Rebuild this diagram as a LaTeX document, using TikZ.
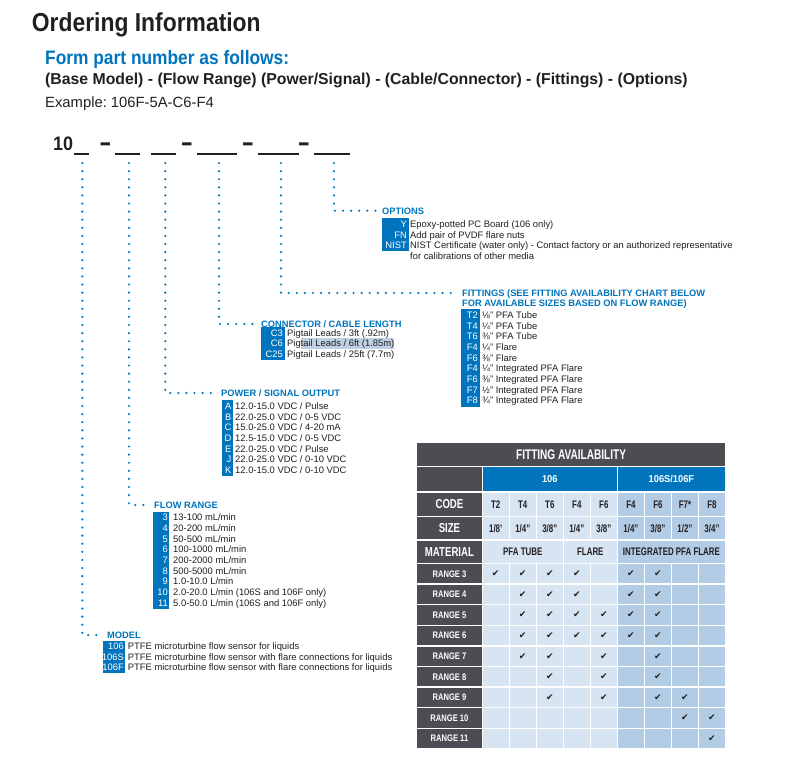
\documentclass[tikz,border=0pt]{standalone}
\usepackage{fontspec}
\setmainfont{Liberation Sans}
\newfontfamily\symfont{DejaVu Sans}
\usepackage{graphicx}
\usepackage{xcolor}
\usepackage{tikz}
\usetikzlibrary{positioning}
\frenchspacing

\definecolor{brandblue}{RGB}{0,116,188}
\definecolor{tabdark}{RGB}{75,77,82}
\definecolor{celllight}{RGB}{215,228,242}
\definecolor{cellmid}{RGB}{179,204,230}
\definecolor{txtdark}{RGB}{35,31,32}
\definecolor{selblue}{RGB}{190,209,228}

\newcommand{\cond}[2][0.72]{\scalebox{#1}[1]{#2}}
\newcommand{\chk}{{\symfont\fontsize{9}{9}\selectfont ✔}}

\begin{document}
\begin{tikzpicture}[x=1pt,y=-1pt]
    \tikzset{hd/.style = {anchor=west, inner sep=0pt, text=brandblue, font=\fontsize{9.3}{11}\selectfont\bfseries, text height=6.7pt, text depth=0pt}}
    \tikzset{item/.style = {anchor=west, inner sep=0pt, text=txtdark, font=\fontsize{9.4}{10.7}\selectfont, text height=6.7pt, text depth=0pt}}
    \tikzset{code/.style = {anchor=east, inner sep=0pt, text=white, font=\fontsize{9.4}{10.7}\selectfont, text height=6.7pt, text depth=0pt}}
    \tikzset{dots/.style = {brandblue, line width=2.4pt, line cap=round, dash pattern=on 0pt off 8.1pt}}
    \tikzset{blank/.style = {txtdark, line width=1.3pt}}
    \tikzset{dashtxt/.style = {anchor=base, inner sep=0pt, text=txtdark, font=\fontsize{19}{20}\selectfont\bfseries}}
    \tikzset{lab/.style = {fill=tabdark, text=white, inner sep=0pt, minimum width=64.1pt, font=\bfseries}}
    \tikzset{cell/.style = {inner sep=0pt, minimum width=25.6pt, text=txtdark, font=\fontsize{11}{11}\selectfont\bfseries}}

    \fill[white] (0,0) rectangle (792,763);
    \useasboundingbox (0,0) rectangle (792,763);

    % heading
    \node[anchor=base west, inner sep=0pt, text=txtdark, font=\fontsize{26}{26}\selectfont\bfseries] (title) at (31.7,31.3) {\cond[0.88]{Ordering Information}};
    \node[anchor=base west, inner sep=0pt, text=brandblue, font=\fontsize{19.5}{20}\selectfont\bfseries] (form) at (45,64) {\cond[0.89]{Form part number as follows:}};
    \node[anchor=base west, inner sep=0pt, text=txtdark, font=\fontsize{15.8}{16}\selectfont\bfseries] (fields) at (45,84) {(Base Model) - (Flow Range) (Power/Signal) - (Cable/Connector) - (Fittings) - (Options)};
    \node[anchor=base west, inner sep=0pt, text=txtdark, font=\fontsize{14.8}{15}\selectfont] (example) at (45,107.3) {Example: 106F-5A-C6-F4};

    % part number
    \node[anchor=base west, inner sep=0pt, text=txtdark, font=\fontsize{19.5}{20}\selectfont\bfseries] (ten) at (53,150.7) {\cond[0.92]{10}};
    \draw[blank] (74,154) -- (89,154);
    \node[dashtxt] (d1) at (105.5,152) {\scalebox{1}[1.6]{–}};
    \draw[blank] (115,154) -- (140,154);
    \draw[blank] (151,154) -- (176,154);
    \node[dashtxt] (d2) at (187,152) {\scalebox{1}[1.6]{–}};
    \draw[blank] (197,154) -- (237,154);
    \node[dashtxt] (d3) at (248,152) {\scalebox{1}[1.6]{–}};
    \draw[blank] (258,154) -- (299,154);
    \node[dashtxt] (d4) at (304,152) {\scalebox{1}[1.6]{–}};
    \draw[blank] (314,154) -- (350,154);

    \coordinate (bm) at (82.3,163);
    \coordinate (bf) at (129,163);
    \coordinate (bp) at (165.3,163);
    \coordinate (bc) at (219,163);
    \coordinate (bt) at (281,163);
    \coordinate (bo) at (334,163);

    % options
    \node[hd] (opt) at (382,210.7) {OPTIONS};
    \fill[brandblue] (382,218.2) rectangle (408.5,251.2);
    \foreach \c/\t [count=\n from 0] in {Y/{Epoxy-potted PC Board (106 only)}, FN/{Add pair of PVDF flare nuts}, NIST/{NIST Certificate (water only) - Contact factory or an authorized representative}}{
        \node[code] (oc\n) at (407,224+10.7*\n) {\c};
        \node[item] (ot\n) at (410,224+10.7*\n) {\t};
    }
    \node[item] (ot3) at (410,256.1) {for calibrations of other media};

    % fittings
    \node[hd] (fit) at (462,293) {FITTINGS (SEE FITTING AVAILABILITY CHART BELOW};
    \node[hd] (fit2) at (462,303.2) {FOR AVAILABLE SIZES BASED ON FLOW RANGE)};
    \fill[brandblue] (461,309.2) rectangle (479.5,406.8);
    \foreach \c/\t [count=\n from 0] in {T2/{⅛" PFA Tube}, T4/{¼" PFA Tube}, T6/{⅜" PFA Tube}, F4/{¼" Flare}, F6/{⅜" Flare}, F4/{¼" Integrated PFA Flare}, F6/{⅜" Integrated PFA Flare}, F7/{½" Integrated PFA Flare}, F8/{¾" Integrated PFA Flare}}{
        \node[code] (fc\n) at (478,315+10.7*\n) {\c};
        \node[item] (ft\n) at (482,315+10.7*\n) {\t};
    }

    % connector
    \node[hd] (con) at (261,324) {CONNECTOR / CABLE LENGTH};
    \fill[brandblue] (261,327.2) rectangle (284.5,359.8);
    \fill[selblue] (300.7,338.4) rectangle (394,349);
    \foreach \c/\t [count=\n from 0] in {C3/{Pigtail Leads / 3ft (.92m)}, C6/{Pigtail Leads / 6ft (1.85m)}, C25/{Pigtail Leads / 25ft (7.7m)}}{
        \node[code] (cc\n) at (283,332.7+10.7*\n) {\c};
        \node[item] (ct\n) at (287,332.7+10.7*\n) {\t};
    }

    % power
    \node[hd] (pow) at (221,393) {POWER / SIGNAL OUTPUT};
    \fill[brandblue] (221.5,400.3) rectangle (233,476);
    \foreach \c/\t [count=\n from 0] in {A/{12.0-15.0 VDC / Pulse}, B/{22.0-25.0 VDC / 0-5 VDC}, C/{15.0-25.0 VDC / 4-20 mA}, D/{12.5-15.0 VDC / 0-5 VDC}, E/{22.0-25.0 VDC / Pulse}, J/{22.0-25.0 VDC / 0-10 VDC}, K/{12.0-15.0 VDC / 0-10 VDC}}{
        \node[code] (pc\n) at (231.5,406+10.7*\n) {\c};
        \node[item] (pt\n) at (235,406+10.7*\n) {\t};
    }

    % flow range
    \node[hd] (flo) at (154,505) {FLOW RANGE};
    \fill[brandblue] (152.7,511.6) rectangle (169.3,608.5);
    \foreach \c/\t [count=\n from 0] in {3/{13-100 mL/min}, 4/{20-200 mL/min}, 5/{50-500 mL/min}, 6/{100-1000 mL/min}, 7/{200-2000 mL/min}, 8/{500-5000 mL/min}, 9/{1.0-10.0 L/min}, 10/{2.0-20.0 L/min (106S and 106F only)}, 11/{5.0-50.0 L/min (106S and 106F only)}}{
        \node[code] (rc\n) at (168,517.3+10.7*\n) {\c};
        \node[item] (rt\n) at (173,517.3+10.7*\n) {\t};
    }

    % model
    \node[hd] (mdl) at (107,635) {MODEL};
    \fill[brandblue] (103.3,640.6) rectangle (125.3,672.8);
    \foreach \c/\t [count=\n from 0] in {106/{PTFE microturbine flow sensor for liquids}, 106S/{PTFE microturbine flow sensor with flare connections for liquids}, 106F/{PTFE microturbine flow sensor with flare connections for liquids}}{
        \node[code] (mc\n) at (124,646+10.7*\n) {\c};
        \node[item] (mt\n) at (127.7,646+10.7*\n) {\t};
    }

    % leaders
    \draw[dots] (bo) |- ([xshift=-4pt]opt.west);
    \draw[dots] (bt) |- ([xshift=-5pt]fit.west);
    \draw[dots] (bc) |- ([xshift=-4pt]con.west);
    \draw[dots] (bp) |- ([xshift=-4pt]pow.west);
    \draw[dots] (bf) |- ([xshift=-5pt]flo.west);
    \draw[dots] (bm) |- ([xshift=-4pt]mdl.west);

    % fitting availability table
    \node[fill=tabdark, text=white, inner sep=0pt, minimum width=307.4pt, minimum height=23.1pt, font=\fontsize{14}{14}\selectfont\bfseries] (fa) at (571.1,454.25) {\cond[0.72]{FITTING AVAILABILITY}};
    \node[lab, minimum height=24.1pt] (hblank) at (449.45,479.25) {};
    \node[fill=brandblue, text=white, inner sep=0pt, minimum width=133.7pt, minimum height=24.1pt, font=\fontsize{10}{10}\selectfont\bfseries] (g106) at (549.8,479.25) {\cond[0.93]{106}};
    \node[fill=brandblue, text=white, inner sep=0pt, minimum width=106.7pt, minimum height=24.1pt, font=\fontsize{10}{10}\selectfont\bfseries] (g106s) at (671.4,479.25) {\cond[0.93]{106S/106F}};

    \node[lab, minimum height=23.1pt, font=\fontsize{13}{13}\selectfont\bfseries] (lcode) at (449.45,504.25) {\cond[0.74]{CODE}};
    \node[lab, minimum height=22.1pt, font=\fontsize{13}{13}\selectfont\bfseries] (lsize) at (449.45,528.25) {\cond[0.74]{SIZE}};
    \node[lab, minimum height=22.1pt, font=\fontsize{13}{13}\selectfont\bfseries] (lmat) at (449.45,551.75) {\cond[0.74]{MATERIAL}};

    \foreach \cd/\sz [count=\i] in {T2/{1/8'}, T4/{1/4"}, T6/{3/8"}, F4/{1/4"}, F6/{3/8"}, F4/{1/4"}, F6/{3/8"}, F7*/{1/2"}, F8/{3/4"}}{
        \ifnum\i<6 \def\cc{celllight}\else\def\cc{cellmid}\fi
        \node[cell, fill=\cc, minimum height=23.1pt] (code\i) at (468.7+27.03*\i,504.25) {\cond{\cd}};
        \node[cell, fill=\cc, minimum height=22.1pt] (size\i) at (468.7+27.03*\i,528.25) {\cond{\sz}};
    }
    \node[cell, fill=celllight, minimum width=79.7pt, minimum height=22.1pt] (mtube) at (522.75,551.75) {\cond{PFA TUBE}};
    \node[cell, fill=celllight, minimum width=52.65pt, minimum height=22.1pt] (mflare) at (590.3,551.75) {\cond{FLARE}};
    \node[cell, fill=cellmid, minimum width=106.7pt, minimum height=22.1pt] (mint) at (671.4,551.75) {\cond{INTEGRATED PFA FLARE}};

    \foreach \r [count=\k from 0] in {3,...,11}{
        \node[lab, minimum height=19.2pt, font=\fontsize{9.5}{10}\selectfont\bfseries] (rg\r) at (449.45,573.8+20.6*\k) {\cond[0.8]{RANGE \r}};
        \foreach \i in {1,...,9}{
            \ifnum\i<6 \def\cc{celllight}\else\def\cc{cellmid}\fi
            \node[cell, fill=\cc, minimum height=19.2pt] (c\r-\i) at (468.7+27.03*\i,573.8+20.6*\k) {};
        }
    }

    % checks
    \foreach \r/\cols in {3/{1,2,3,4,6,7}, 4/{2,3,4,6,7}, 5/{2,3,4,5,6,7}, 6/{2,3,4,5,6,7}, 7/{2,3,5,7}, 8/{3,5,7}, 9/{3,5,7,8}, 10/{8,9}, 11/{9}}{
        \foreach \i in \cols
            \node[inner sep=0pt, text=txtdark] (ck\r-\i) at (c\r-\i) {\chk};
    }
\end{tikzpicture}
\end{document}
